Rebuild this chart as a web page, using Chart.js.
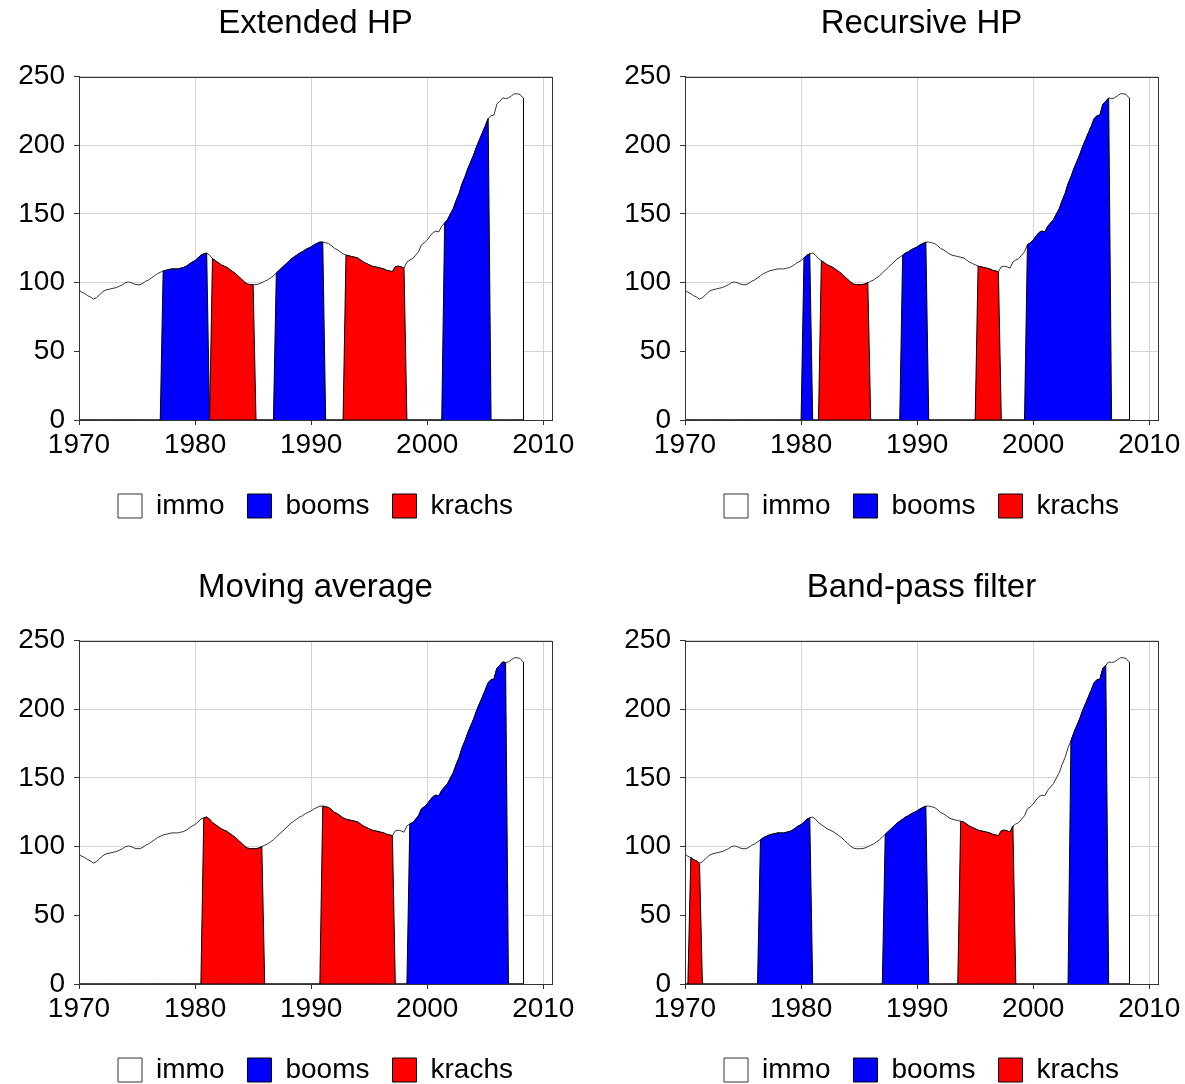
<!DOCTYPE html>
<html>
<head>
<meta charset="utf-8">
<script src="https://cdn.jsdelivr.net/npm/chart.js@4"></script>
<style>
  body { margin: 0; background: #fff; width: 1185px; height: 1084px; overflow: hidden; position: relative; }
  .panel { position: absolute; width: 590px; height: 530px; }
</style>
</head>
<body>
<div class="panel" style="left:0;top:0"><canvas id="c0"></canvas></div>
<div class="panel" style="left:606px;top:0"><canvas id="c1"></canvas></div>
<div class="panel" style="left:0;top:564px"><canvas id="c2"></canvas></div>
<div class="panel" style="left:606px;top:564px"><canvas id="c3"></canvas></div>
<script>
// quarterly house price index, 1970Q1 .. 2008Q2
const immo = [
  94.5, 93, 92, 90.5,        // 1970
  89.5, 88, 89, 91,          // 1971
  93, 94.5, 95, 95.5,        // 1972
  96, 96.5, 97.5, 98.5,      // 1973
  100, 100.5, 100, 99,       // 1974
  98.5, 98.5, 99.5, 101,     // 1975
  102, 103.5, 105, 106.5,    // 1976
  107.5, 108.5, 109, 109.5,  // 1977
  110, 110, 110, 110.5,      // 1978
  111, 112, 113.5, 115,      // 1979
  116, 118, 120, 121,        // 1980
  121.5, 120, 117.5, 116,    // 1981
  114.5, 113, 112, 111,      // 1982
  109.5, 108, 106.5, 104.5,  // 1983
  102.5, 100.5, 99, 98.5,    // 1984
  98.5, 98.5, 99, 100,       // 1985
  101, 102, 103.5, 105,      // 1986
  107, 109, 111, 113,        // 1987
  115, 117, 118.5, 120,      // 1988
  121.5, 122.5, 124, 125,    // 1989
  126, 127.5, 128.5, 129.5,  // 1990
  129.5, 129, 128.5, 127,    // 1991
  125, 124, 122.5, 121,      // 1992
  120, 119.5, 119, 118.5,    // 1993
  118, 116.5, 115, 114,      // 1994
  113, 112, 111.5, 111,      // 1995
  110.5, 110, 109, 108.5,    // 1996
  108, 111.5, 112, 111.5,    // 1997
  110.5, 115, 116.5, 117.5,  // 1998
  120, 122.5, 127.5, 129,    // 1999
  131, 134, 136.5, 137.5,    // 2000
  137, 141, 143.5, 146,      // 2001
  150, 154, 160, 165,        // 2002
  172, 177, 183, 188,        // 2003
  193, 199, 204, 209,        // 2004
  214, 219.5, 221.5, 222,    // 2005
  230, 232, 234.5, 234,      // 2006
  234.5, 236, 237.5, 237.5,  // 2007
  237, 234.5                 // 2008
];
const firstYear = 1970;
const quarters = immo.map((v, i) => firstYear + i / 4);

const titles = ['Extended HP', 'Recursive HP', 'Moving average', 'Band-pass filter'];

// boom / krach phases as [first quarter, last quarter]
const boomsExtended = [[1977.25, 1981.0], [1987.0, 1991.0], [2001.5, 2005.25]];
const krachsExtended = [[1981.5, 1985.0], [1993.0, 1998.0]];
const boomsRecursive = [[1980.25, 1980.75], [1988.75, 1990.75], [1999.5, 2006.5]];
const krachsRecursive = [[1981.75, 1985.75], [1995.25, 1997.0]];
const boomsMoving = [[1998.5, 2006.75]];
const krachsMoving = [[1980.75, 1985.75], [1991.0, 1997.0]];
const boomsBandpass = [[1976.5, 1980.75], [1987.25, 1990.75], [2003.25, 2006.25]];
const krachsBandpass = [[1970.5, 1971.25], [1993.75, 1998.25]];

const boomSets = [boomsExtended, boomsRecursive, boomsMoving, boomsBandpass];
const krachSets = [krachsExtended, krachsRecursive, krachsMoving, krachsBandpass];

const xTicks = [1970, 1980, 1990, 2000, 2010];
const yTicks = [0, 50, 100, 150, 200, 250];

Chart.defaults.font.family = "'Liberation Sans', Arial, sans-serif";
Chart.defaults.color = '#000';

function masked(periods) {
  return immo.map((v, i) => {
    const q = quarters[i];
    const inside = periods.some(p => q >= p[0] - 1e-6 && q <= p[1] + 1e-6);
    return { x: q, y: inside ? v : 0 };
  });
}

const framePlugin = {
  id: 'frame',
  afterDatasetsDraw(chart) {
    const { ctx, chartArea: a, scales } = chart;
    ctx.save();
    // closing edge of the immo area
    const meta = chart.getDatasetMeta(0);
    const last = meta.data[meta.data.length - 1];
    ctx.strokeStyle = '#000';
    ctx.lineWidth = 1;
    ctx.beginPath();
    ctx.moveTo(Math.round(last.x) + 0.5, last.y);
    ctx.lineTo(Math.round(last.x) + 0.5, scales.y.getPixelForValue(0));
    ctx.stroke();
    // box around plot
    ctx.strokeStyle = '#333';
    ctx.strokeRect(Math.round(a.left) + 0.5, Math.round(a.top) + 0.5,
      Math.round(a.right - a.left), Math.round(a.bottom - a.top));
    ctx.restore();
  }
};

titles.forEach((title, k) => {
  new Chart(document.getElementById('c' + k), {
    type: 'line',
    data: {
      datasets: [
        { label: 'immo', data: immo.map((v, i) => ({ x: quarters[i], y: v })),
          borderColor: '#333', backgroundColor: '#fff', borderWidth: 1,
          fill: 'origin', pointRadius: 0, order: 3 },
        { label: 'booms', data: masked(boomSets[k]),
          borderColor: '#000', backgroundColor: '#0000ff', borderWidth: 1,
          fill: 'origin', pointRadius: 0, order: 1 },
        { label: 'krachs', data: masked(krachSets[k]),
          borderColor: '#000', backgroundColor: '#ff0000', borderWidth: 1,
          fill: 'origin', pointRadius: 0, order: 2 }
      ]
    },
    options: {
      responsive: true,
      maintainAspectRatio: false,
      animation: false,
      layout: { padding: { left: 0, right: 38, top: 0, bottom: 0 } },
      elements: { line: { tension: 0 } },
      scales: {
        x: {
          type: 'linear', min: 1970, max: 2010.75,
          afterFit: s => { s.height = 49; },
          afterBuildTicks: s => { s.ticks = xTicks.map(v => ({ value: v })); },
          ticks: { font: { size: 28 }, padding: 3, maxRotation: 0, includeBounds: false,
            callback: v => String(v) },
          grid: { color: '#d4d4d4', tickColor: '#333', tickLength: 5 },
          border: { color: '#333' }
        },
        y: {
          min: 0, max: 250,
          afterFit: s => { s.width = 79; },
          afterBuildTicks: s => { s.ticks = yTicks.map(v => ({ value: v })); },
          ticks: { font: { size: 28 }, padding: 9 },
          grid: { color: '#d4d4d4', tickColor: '#333', tickLength: 5 },
          border: { color: '#333' }
        }
      },
      plugins: {
        title: { display: true, text: title, fullSize: false, color: '#000',
          font: { size: 33, weight: 'normal' }, padding: { top: 4, bottom: 33 } },
        legend: {
          position: 'bottom', fullSize: false,
          labels: { boxWidth: 24, boxHeight: 24, padding: 23, font: { size: 28 },
            sort: (a, b) => a.datasetIndex - b.datasetIndex }
        },
        tooltip: { enabled: false }
      }
    },
    plugins: [framePlugin]
  });
});
</script>
</body>
</html>
